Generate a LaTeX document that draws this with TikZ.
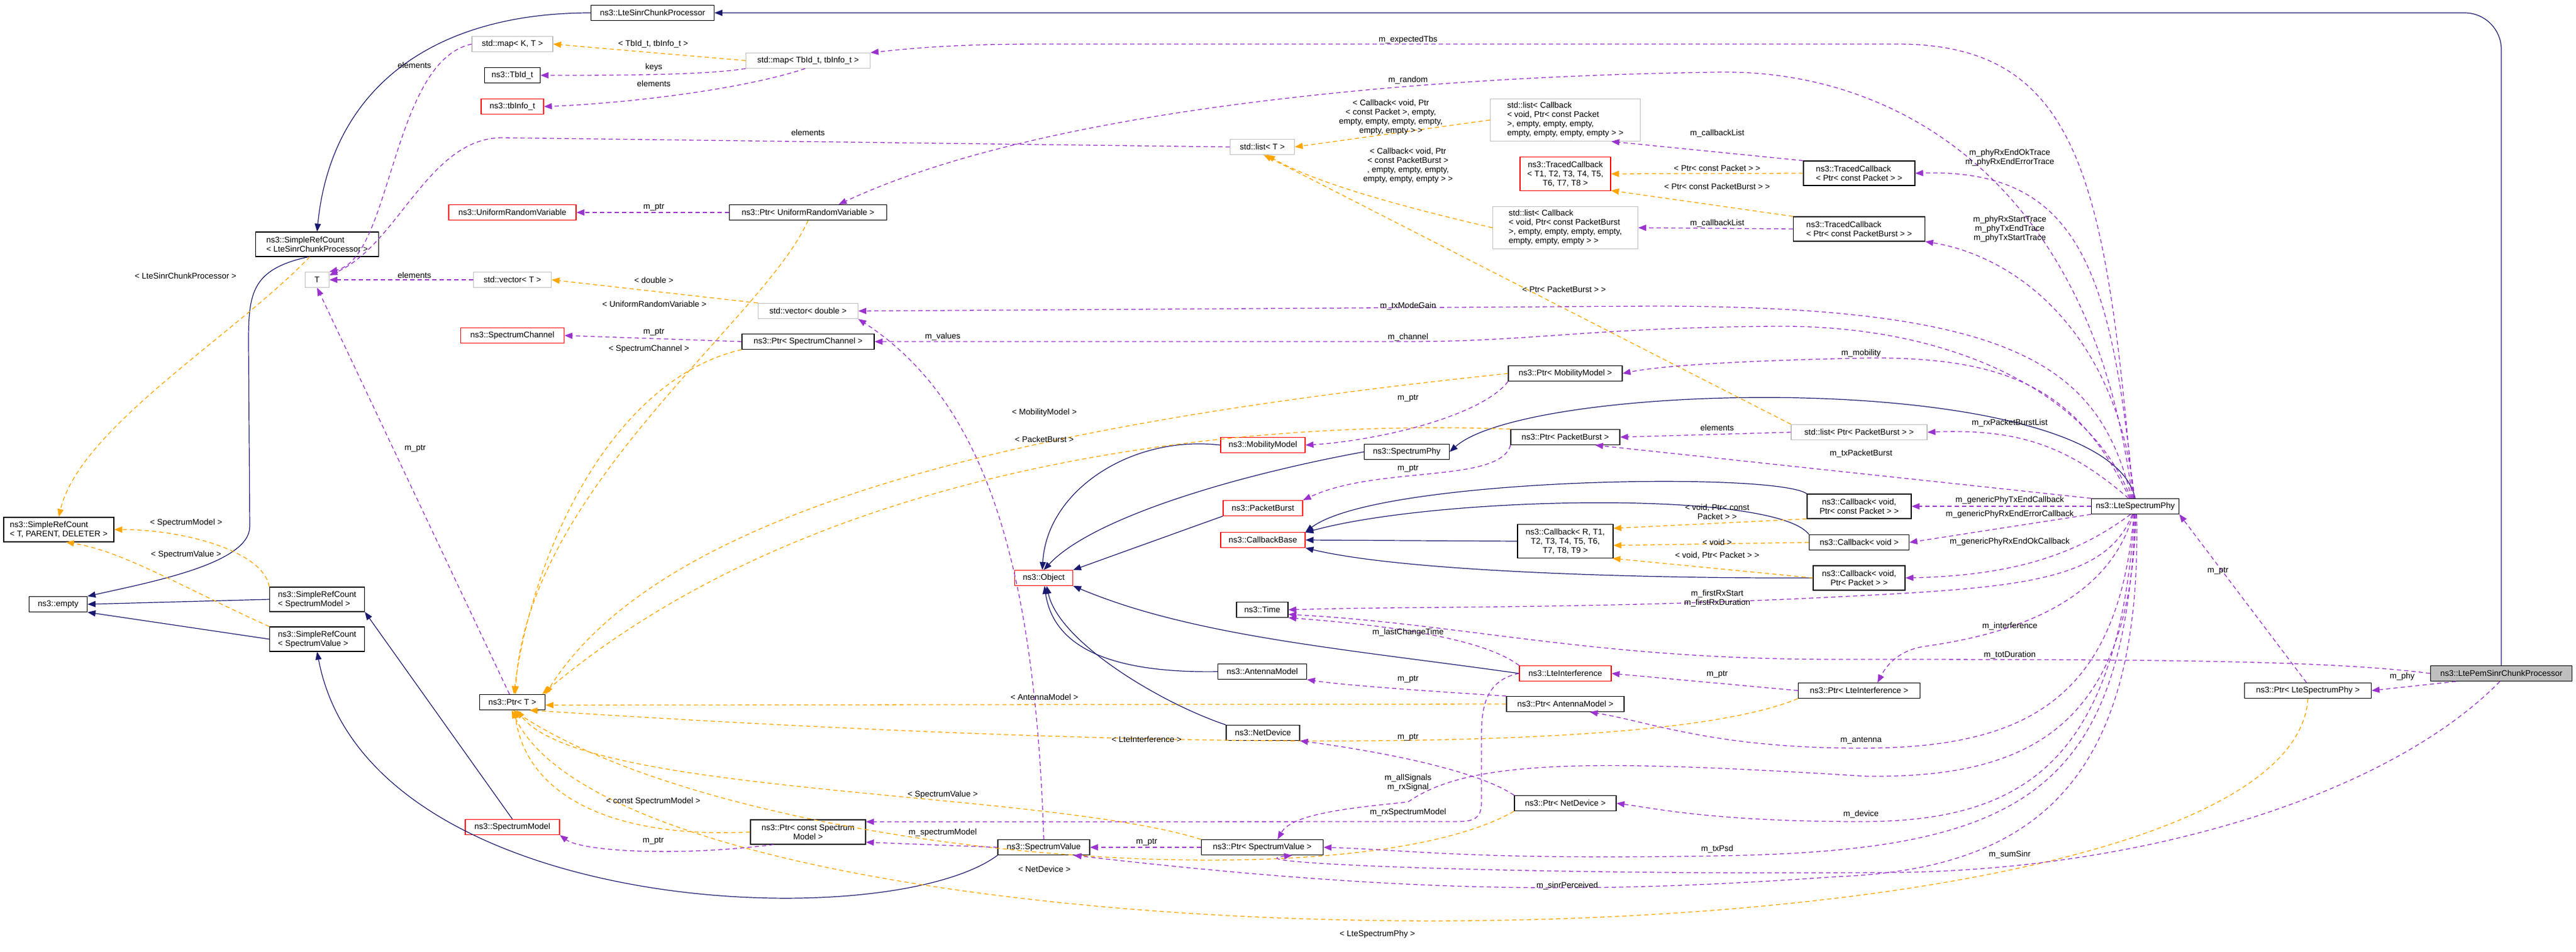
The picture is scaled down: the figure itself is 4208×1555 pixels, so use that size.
\documentclass[tikz,border=0pt]{standalone}
\usepackage{fontspec}
\setmainfont{Liberation Sans}
\usetikzlibrary{arrows.meta,calc}
\definecolor{inhblue}{HTML}{191970}
\definecolor{usepurple}{HTML}{9A32CD}
\definecolor{tplorange}{HTML}{FFA500}
\definecolor{boxgray}{HTML}{BFBFBF}
\newcommand\fnt{\fontsize{13.5}{15}\selectfont}
\newcommand\lb[3]{\node[lbl] (#1) at (#2) {#3};}
\begin{document}
\begin{tikzpicture}[x=1pt,y=-1pt,
 every node/.style={font=\fnt},
 bx/.style={draw=black, line width=1.1pt, fill=white, inner sep=2pt, align=left},
 gbx/.style={bx, draw=boxgray},
 rbx/.style={bx, draw=red},
 lbl/.style={inner sep=0pt, align=center},
 inh/.style={draw=inhblue, line width=1.2pt, -{Triangle[length=13pt,width=10pt]}},
 usel/.style={draw=usepurple, line width=1.3pt, dash pattern=on 7pt off 5pt, -{Triangle[length=13pt,width=10pt]}},
 tpl/.style={draw=tplorange, line width=1.3pt, dash pattern=on 7pt off 5pt, -{Triangle[length=13pt,width=10pt]}}]
\useasboundingbox (0,0) rectangle (4208,1555);
\fill[white] (0,0) rectangle (4208,1555);
% nodes
\node[bx, minimum width=201, minimum height=25] (lsc) at (1066,21) {ns3::LteSinrChunkProcessor};
\node[gbx, minimum width=132, minimum height=25] (mapKT) at (837,72) {std::map< K, T >};
\node[bx, minimum width=91, minimum height=25] (tbid) at (837,123) {ns3::TbId\_t};
\node[rbx, minimum width=102, minimum height=25] (tbinfo) at (837,174) {ns3::tbInfo\_t};
\node[rbx, minimum width=208, minimum height=25] (urv) at (837,347) {ns3::UniformRandomVariable};
\node[bx, minimum width=201, minimum height=40] (srcLsc) at (518,399) {ns3::SimpleRefCount\\< LteSinrChunkProcessor >};
\node[gbx, minimum width=39, minimum height=25] (nodeT) at (518,457) {T};
\node[gbx, minimum width=127, minimum height=25] (vecT) at (837,457) {std::vector< T >};
\node[rbx, minimum width=169, minimum height=25] (specChan) at (837,548) {ns3::SpectrumChannel};
\node[bx, minimum width=180, minimum height=40] (srcTPD) at (96,865) {ns3::SimpleRefCount\\< T, PARENT, DELETER >};
\node[bx, minimum width=95, minimum height=25] (empty) at (95,987) {ns3::empty};
\node[bx, minimum width=155, minimum height=40] (srcSM) at (518,979) {ns3::SimpleRefCount\\< SpectrumModel >};
\node[bx, minimum width=155, minimum height=40] (srcSV) at (518,1044) {ns3::SimpleRefCount\\< SpectrumValue >};
\node[bx, minimum width=107, minimum height=25] (ptrT) at (837,1147) {ns3::Ptr< T >};
\node[rbx, minimum width=154, minimum height=25] (specModel) at (837,1351) {ns3::SpectrumModel};
\node[gbx, minimum width=203, minimum height=25] (mapTb) at (1320,99) {std::map< TbId\_t, tbInfo\_t >};
\node[gbx, minimum width=105, minimum height=25] (listT) at (2062,240) {std::list< T >};
\node[bx, minimum width=257, minimum height=25] (ptrUrv) at (1320,347) {ns3::Ptr< UniformRandomVariable >};
\node[gbx, minimum width=163, minimum height=25] (vecD) at (1320,508) {std::vector< double >};
\node[bx, minimum width=216, minimum height=25] (ptrSC) at (1320,558) {ns3::Ptr< SpectrumChannel >};
\node[rbx, minimum width=138, minimum height=25] (mob) at (2063,727) {ns3::MobilityModel};
\node[bx, minimum width=139, minimum height=25] (sphy) at (2298,738) {ns3::SpectrumPhy};
\node[rbx, minimum width=130, minimum height=25] (pb) at (2063,830) {ns3::PacketBurst};
\node[rbx, minimum width=138, minimum height=25] (cbb) at (2063,882) {ns3::CallbackBase};
\node[rbx, minimum width=95, minimum height=25] (obj) at (1705,944) {ns3::Object};
\node[bx, minimum width=84, minimum height=25] (time) at (2062,996) {ns3::Time};
\node[bx, minimum width=145, minimum height=25] (ant) at (2062,1097) {ns3::AntennaModel};
\node[bx, minimum width=120, minimum height=25] (netdev) at (2063,1197) {ns3::NetDevice};
\node[bx, minimum width=188, minimum height=40, align=center] (ptrCSM) at (1320,1359) {ns3::Ptr< const Spectrum\\Model >};
\node[bx, minimum width=150, minimum height=25] (sv) at (1705,1384) {ns3::SpectrumValue};
\node[bx, minimum width=199, minimum height=25] (ptrSV) at (2062,1384) {ns3::Ptr< SpectrumValue >};
\node[gbx, minimum width=245, minimum height=69] (listCbP) at (2557,196) {std::list< Callback\\< void, Ptr< const Packet\\>, empty, empty, empty,\\empty, empty, empty, empty > >};
\node[rbx, minimum width=148, minimum height=55, align=center] (tcT) at (2557,284) {ns3::TracedCallback\\< T1, T2, T3, T4, T5,\\T6, T7, T8 >};
\node[bx, minimum width=182, minimum height=40] (tcP) at (3037,283) {ns3::TracedCallback\\< Ptr< const Packet > >};
\node[gbx, minimum width=237, minimum height=69] (listCbPB) at (2557,372) {std::list< Callback\\< void, Ptr< const PacketBurst\\>, empty, empty, empty, empty,\\empty, empty, empty > >};
\node[bx, minimum width=215, minimum height=40] (tcPB) at (3037,374) {ns3::TracedCallback\\< Ptr< const PacketBurst > >};
\node[bx, minimum width=186, minimum height=25] (ptrMob) at (2557,610) {ns3::Ptr< MobilityModel >};
\node[bx, minimum width=178, minimum height=25] (ptrPB) at (2557,714) {ns3::Ptr< PacketBurst >};
\node[gbx, minimum width=222, minimum height=25] (listPPB) at (3037,706) {std::list< Ptr< PacketBurst > >};
\node[bx, minimum width=170, minimum height=40, align=center] (cbVCP) at (3037,827) {ns3::Callback< void,\\Ptr< const Packet > >};
\node[bx, minimum width=156, minimum height=55, align=center] (cbR) at (2557,884) {ns3::Callback< R, T1,\\T2, T3, T4, T5, T6,\\T7, T8, T9 >};
\node[bx, minimum width=163, minimum height=25] (cbV) at (3037,886) {ns3::Callback< void >};
\node[bx, minimum width=150, minimum height=40, align=center] (cbVP) at (3037,944) {ns3::Callback< void,\\Ptr< Packet > >};
\node[bx, minimum width=143, minimum height=25] (lsp) at (3488,827) {ns3::LteSpectrumPhy};
\node[rbx, minimum width=150, minimum height=25] (lteI) at (2557,1100) {ns3::LteInterference};
\node[bx, minimum width=192, minimum height=25] (ptrAnt) at (2557,1150) {ns3::Ptr< AntennaModel >};
\node[bx, minimum width=199, minimum height=25] (ptrLI) at (3037,1128) {ns3::Ptr< LteInterference >};
\node[bx, minimum width=166, minimum height=25] (ptrND) at (2557,1312) {ns3::Ptr< NetDevice >};
\node[bx, fill=boxgray, minimum width=231, minimum height=25] (pem) at (4086,1100) {ns3::LtePemSinrChunkProcessor};
\node[bx, minimum width=207, minimum height=25] (ptrLSP) at (3770,1128) {ns3::Ptr< LteSpectrumPhy >};
% inheritance
\draw[inh, rounded corners=60pt] (pem.north) |- (lsc.east);
\draw[inh] (lsc.west) .. controls (700,21) and (540,150) .. (srcLsc.north);
\draw[inh] (srcLsc.-125) .. controls (410,440) and (406,480) .. (406,560) -- (408,860) .. controls (408,920) and (250,950) .. (empty.north east);
\draw[inh] (srcSM.west) -- (empty.east);
\draw[inh] (srcSV.west) -- (empty.south east);
\draw[inh] (specModel.north) -- (srcSM.south east);
\draw[inh] (sv.south west) .. controls (1450,1530) and (600,1500) .. (srcSV.south);
\draw[inh] (mob.west) .. controls (1850,710) and (1710,800) .. (obj.100);
\draw[inh] (sphy.west) .. controls (2000,780) and (1780,850) .. (obj.north);
\draw[inh] (pb.south west) -- (obj.north east);
\draw[inh] (ant.west) .. controls (1800,1100) and (1720,1050) .. (obj.-85);
\draw[inh] (netdev.north west) .. controls (1900,1150) and (1730,1050) .. (obj.-70);
\draw[inh] (lteI.west) .. controls (2200,1060) and (1950,1040) .. (obj.south east);
\draw[inh] (lsp.north) .. controls (3440,600) and (2500,620) .. (sphy.east);
\draw[inh] (cbVCP.north west) .. controls (2900,770) and (2250,780) .. (cbb.north east);
\draw[inh] (cbV.north west) .. controls (2900,800) and (2350,810) .. (cbb.10);
\draw[inh] (cbR.west) -- (cbb.east);
\draw[inh] (cbVP.west) .. controls (2700,945) and (2300,935) .. (cbb.south east);
% templates
\draw[tpl] (srcLsc.-120) .. controls (380,550) and (130,700) .. (srcTPD.north);
\draw[tpl] (srcSM.north west) .. controls (430,900) and (300,865) .. (srcTPD.east);
\draw[tpl] (srcSV.north west) .. controls (300,960) and (200,900) .. (srcTPD.-60);
\draw[tpl] (mapTb.west) -- (mapKT.east);
\draw[tpl] (listCbP.west) -- (listT.east);
\draw[tpl] (listCbPB.west) .. controls (2300,340) and (2150,300) .. (listT.-60);
\draw[tpl] (listPPB.north west) -- (listT.-80);
\draw[tpl] (vecD.north west) -- (vecT.east);
\draw[tpl] (tcP.west) -- (tcT.east);
\draw[tpl] (tcPB.north west) -- (tcT.-20);
\draw[tpl] (cbVCP.south west) -- (cbR.15);
\draw[tpl] (cbV.west) -- (cbR.-5);
\draw[tpl] (cbVP.west) -- (cbR.-20);
\draw[tpl] (ptrUrv.south) .. controls (1250,520) and (860,800) .. (ptrT.70);
\draw[tpl] (ptrSC.south west) .. controls (1000,620) and (870,900) .. (ptrT.80);
\draw[tpl] (ptrMob.west) .. controls (1800,680) and (1100,800) .. (ptrT.north east);
\draw[tpl] (ptrPB.north west) .. controls (2200,690) and (1400,700) .. (ptrT.15);
\draw[tpl] (ptrAnt.west) -- (ptrT.-5);
\draw[tpl] (ptrLI.south west) .. controls (2700,1240) and (1800,1220) .. (ptrT.-25);
\draw[tpl] (ptrSV.north west) .. controls (1700,1290) and (950,1300) .. (ptrT.-60);
\draw[tpl] (ptrCSM.west) .. controls (1000,1370) and (860,1300) .. (ptrT.-75);
\draw[tpl] (ptrND.south west) .. controls (2200,1480) and (1200,1400) .. (ptrT.-85);
\draw[tpl] (ptrLSP.south) .. controls (3740,1620) and (1050,1620) .. (ptrT.-95);
% usage
\draw[usel] (mapKT.west) .. controls (640,100) and (640,420) .. (nodeT.north east);
\draw[usel] (mapTb.south west) .. controls (1150,123) and (1000,123) .. (tbid.east);
\draw[usel] (mapTb.250) .. controls (1200,150) and (1000,170) .. (tbinfo.east);
\draw[usel] (listT.west) -- (820,225) .. controls (700,225) and (650,400) .. (nodeT.20);
\draw[usel] (vecT.west) -- (nodeT.east);
\draw[usel] (ptrT.110) -- (nodeT.south);
\draw[usel] (ptrUrv.west) -- (urv.east);
\draw[usel] (ptrSC.west) -- (specChan.east);
\draw[usel] (ptrMob.south west) .. controls (2420,680) and (2250,720) .. (mob.east);
\draw[usel] (ptrPB.south west) .. controls (2450,790) and (2250,760) .. (pb.north east);
\draw[usel] (ptrCSM.-160) .. controls (1100,1400) and (950,1390) .. (specModel.south east);
\draw[usel] (ptrSV.west) -- (sv.east);
\draw[usel] (ptrAnt.north west) .. controls (2350,1130) and (2200,1120) .. (ant.south east);
\draw[usel] (ptrND.north west) .. controls (2400,1250) and (2200,1220) .. (netdev.south east);
\draw[usel] (ptrLI.west) -- (lteI.east);
\draw[usel] (ptrLSP.100) -- (lsp.south east);
\draw[usel] (sv.north) .. controls (1690,900) and (1600,650) .. (vecD.south east);
\draw[usel] (sv.west) -- (ptrCSM.-10);
\draw[usel] (lteI.north west) .. controls (2420,1040) and (2250,1020) .. (time.south east);
\draw[usel] (lteI.west) .. controls (2430,1110) and (2420,1150) .. (2420,1200) -- (2420,1310) .. controls (2420,1335) and (2410,1342) .. (2380,1342) -- (ptrCSM.10);
\draw[usel] (tcP.north west) -- (listCbP.-25);
\draw[usel] (tcPB.west) -- (listCbPB.east);
\draw[usel] (listPPB.west) -- (ptrPB.east);
\draw[usel] (lsp.105) .. controls (3440,300) and (3400,72) .. (3100,72) -- (1700,72) .. controls (1550,72) and (1480,80) .. (mapTb.north east);
\draw[usel] (lsp.110) .. controls (3420,300) and (3100,110) .. (2800,118) .. controls (2300,125) and (1700,180) .. ([xshift=50pt]ptrUrv.north);
\draw[usel] (lsp.100) .. controls (3450,450) and (3400,275) .. (tcP.east);
\draw[usel] (lsp.95) .. controls (3460,550) and (3300,420) .. (tcPB.south east);
\draw[usel] (lsp.115) .. controls (3430,600) and (3300,500) .. (2700,500) -- (vecD.east);
\draw[usel] (lsp.120) .. controls (3420,650) and (3200,530) .. (2900,533) .. controls (2600,535) and (2500,558) .. (2300,558) -- (ptrSC.east);
\draw[usel] (lsp.125) .. controls (3400,650) and (3300,580) .. (3040,585) .. controls (2800,590) and (2700,600) .. (ptrMob.east);
\draw[usel] (lsp.130) .. controls (3380,730) and (3300,700) .. (listPPB.east);
\draw[usel] (lsp.north west) -- (ptrPB.-15);
\draw[usel] (lsp.west) -- (cbVCP.east);
\draw[usel] (lsp.south west) -- (cbV.east);
\draw[usel] (lsp.-120) .. controls (3400,900) and (3300,940) .. (cbVP.east);
\draw[usel] (lsp.-110) .. controls (3440,950) and (3300,960) .. (3000,975) .. controls (2600,995) and (2300,990) .. (time.east);
\draw[usel] (lsp.-105) .. controls (3440,1000) and (3250,1040) .. (3150,1055) .. controls (3100,1060) and (3080,1090) .. ([xshift=30pt]ptrLI.north);
\draw[usel] (lsp.-100) .. controls (3460,1150) and (3300,1222) .. (3040,1222) .. controls (2800,1222) and (2700,1180) .. ([xshift=40pt]ptrAnt.south);
\draw[usel] (lsp.-95) .. controls (3460,1250) and (3300,1342) .. (3040,1342) .. controls (2800,1342) and (2700,1320) .. (ptrND.east);
\draw[usel] (lsp.-90) .. controls (3470,1300) and (3300,1390) .. (2805,1398) .. controls (2400,1405) and (2300,1388) .. (ptrSV.east);
\draw[usel] (lsp.-85) .. controls (3480,1200) and (3300,1270) .. (3050,1268) .. controls (2600,1240) and (2400,1240) .. (2300,1310) .. controls (2200,1320) and (2110,1330) .. ([xshift=25pt]ptrSV.north);
\draw[usel] (lsp.-80) .. controls (3500,1300) and (3300,1420) .. (3000,1432) .. controls (2600,1460) and (2300,1460) .. (sv.-15);
\draw[usel] (pem.west) .. controls (3800,1078) and (3500,1077) .. (3000,1077) .. controls (2600,1077) and (2400,1020) .. (time.-10);
\draw[usel] (pem.-170) -- (ptrLSP.east);
\draw[usel] (pem.-100) .. controls (3900,1300) and (3500,1420) .. (3100,1425) .. controls (2500,1430) and (2000,1410) .. (ptrSV.-15);
% labels
\lb{a1}{677,107}{elements}
\lb{a2}{303,451}{< LteSinrChunkProcessor >}
\lb{a3}{677,450}{elements}
\lb{a4}{678,733}{m\_ptr}
\lb{a5}{304,854}{< SpectrumModel >}
\lb{a6}{304,906}{< SpectrumValue >}
\lb{a7}{1067,1309}{< const SpectrumModel >}
\lb{a8}{1067,1374}{m\_ptr}
\lb{a9}{1067,72}{< TbId\_t, tbInfo\_t >}
\lb{a10}{1068,110}{keys}
\lb{a11}{1068,137}{elements}
\lb{a12}{1320,217}{elements}
\lb{a13}{1068,339}{m\_ptr}
\lb{a14}{1068,458}{< double >}
\lb{a15}{1069,497}{< UniformRandomVariable >}
\lb{a16}{1068,543}{m\_ptr}
\lb{a17}{1060,570}{< SpectrumChannel >}
\lb{a18}{1540,550}{m\_values}
\lb{a19}{1706,674}{< MobilityModel >}
\lb{a20}{1706,718}{< PacketBurst >}
\lb{a21}{1706,1139}{< AntennaModel >}
\lb{a22}{1873,1208}{< LteInterference >}
\lb{a23}{1540,1298}{< SpectrumValue >}
\lb{a24}{1540,1360}{m\_spectrumModel}
\lb{a25}{1873,1376}{m\_ptr}
\lb{a26}{1706,1420}{< NetDevice >}
\lb{a27}{2250,1526}{< LteSpectrumPhy >}
\lb{a28}{2300,65}{m\_expectedTbs}
\lb{a29}{2300,131}{m\_random}
\lb{a30}{2272,192}{< Callback< void, Ptr\\< const Packet >, empty,\\empty, empty, empty, empty,\\empty, empty > >}
\lb{a31}{2300,271}{< Callback< void, Ptr\\< const PacketBurst >\\, empty, empty, empty,\\empty, empty, empty > >}
\lb{a32}{2805,218}{m\_callbackList}
\lb{a33}{2805,275}{< Ptr< const Packet > >}
\lb{a34}{2805,305}{< Ptr< const PacketBurst > >}
\lb{a35}{2805,365}{m\_callbackList}
\lb{a36}{3283,258}{m\_phyRxEndOkTrace\\m\_phyRxEndErrorTrace}
\lb{a37}{3283,374}{m\_phyRxStartTrace\\m\_phyTxEndTrace\\m\_phyTxStartTrace}
\lb{a38}{2555,473}{< Ptr< PacketBurst > >}
\lb{a39}{2300,500}{m\_txModeGain}
\lb{a40}{2300,551}{m\_channel}
\lb{a41}{3040,577}{m\_mobility}
\lb{a42}{2300,651}{m\_ptr}
\lb{a43}{2300,766}{m\_ptr}
\lb{a44}{2805,699}{elements}
\lb{a45}{3283,691}{m\_rxPacketBurstList}
\lb{a46}{3040,741}{m\_txPacketBurst}
\lb{a47}{2805,836}{< void, Ptr< const\\Packet > >}
\lb{a48}{3283,817}{m\_genericPhyTxEndCallback}
\lb{a49}{3283,840}{m\_genericPhyRxEndErrorCallback}
\lb{a50}{2805,886}{< void >}
\lb{a51}{3283,885}{m\_genericPhyRxEndOkCallback}
\lb{a52}{2805,907}{< void, Ptr< Packet > >}
\lb{a53}{2805,977}{m\_firstRxStart\\m\_firstRxDuration}
\lb{a54}{2300,1033}{m\_lastChangeTime}
\lb{a55}{3283,1023}{m\_interference}
\lb{a56}{3283,1070}{m\_totDuration}
\lb{a57}{2300,1110}{m\_ptr}
\lb{a58}{2805,1102}{m\_ptr}
\lb{a59}{2300,1205}{m\_ptr}
\lb{a60}{3040,1209}{m\_antenna}
\lb{a61}{2300,1278}{m\_allSignals\\m\_rxSignal}
\lb{a62}{2300,1327}{m\_rxSpectrumModel}
\lb{a63}{3040,1330}{m\_device}
\lb{a64}{2805,1387}{m\_txPsd}
\lb{a65}{3283,1396}{m\_sumSinr}
\lb{a66}{2560,1447}{m\_sinrPerceived}
\lb{a67}{3924,1105}{m\_phy}
\lb{a68}{3623,933}{m\_ptr}
\end{tikzpicture}
\end{document}
